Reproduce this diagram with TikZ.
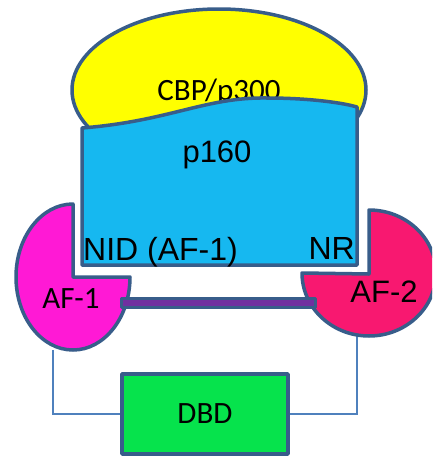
\documentclass[tikz,border=0pt]{standalone}
\usepackage{fontspec}
\setmainfont{Liberation Sans}
\newfontfamily\carl{Carlito}
\newfontfamily\arialf{Liberation Sans}
\definecolor{edge}{HTML}{385D8A}
\definecolor{conn}{HTML}{4F81BD}
\definecolor{cbp}{HTML}{FFFF00}
\definecolor{pblue}{HTML}{16B8F0}
\definecolor{afone}{HTML}{FF19D5}
\definecolor{aftwo}{HTML}{F81870}
\definecolor{dbdgreen}{HTML}{06E34C}
\definecolor{bar}{HTML}{7030A0}
\tikzset{
  outl/.style={draw=edge, line width=3.5pt, line join=round},
  connline/.style={draw=conn, line width=1.8pt},
  lblc/.style={font=\carl\fontsize{31}{31}\selectfont, inner sep=0pt, anchor=base},
  lbla/.style={font=\arialf\fontsize{31}{31}\selectfont, inner sep=0pt, anchor=base},
  lblb/.style={font=\arialf\fontsize{32}{32}\selectfont, inner sep=0pt},
}
\begin{document}
\begin{tikzpicture}[x=1pt,y=-1pt]
\useasboundingbox (0,0) rectangle (432,458);
\clip (0,0) rectangle (432,458);
\fill[white] (0,0) rectangle (432,458);
% DBD box node, defined first for connectors
\node[outl, fill=dbdgreen, minimum width=166pt, minimum height=80pt, inner sep=0pt,
      font=\carl\fontsize{31}{31}\selectfont] (dbd) at (205,414) {DBD};
\coordinate (af1b) at (53,350);
\coordinate (af2b) at (357,336);
\draw[connline] (af1b) |- (dbd.west);
\draw[connline] (af2b) |- (dbd.east);
% CBP/p300
\path[outl, fill=cbp] (219,90) ellipse [x radius=147, y radius=81];
\node[lblc] (cbptext) at (219,100) {CBP/p300};
% p160
\path[outl, fill=pblue] (82,128) .. controls (170,121) and (205,97) .. (267,98)
  .. controls (305,98) and (340,102) .. (357,107) -- (357,265) -- (82,265) -- cycle;
\node[lbla] (p160) at (217,162) {p160};
\node[lblb, anchor=base west] (nid) at (83,260) {NID (AF-1)};
\node[lblb, anchor=base east] (nr) at (355,259) {NR};
% AF-1
\path[outl, fill=afone] (73,204) arc[start angle=-90, end angle=-360, x radius=57, y radius=73] -- (73,277) -- cycle;
% AF-2
\path[outl, fill=aftwo] (369,210) arc[start angle=-90, end angle=180, x radius=67, y radius=63] -- (369,274) -- cycle;
% bar
\path[outl, fill=bar, line width=3pt] (121,298) rectangle (315,307);
\node[lblc] (af1) at (71,308) {AF-1};
\node[lbla] (af2) at (384,302) {AF-2};
\end{tikzpicture}
\end{document}
